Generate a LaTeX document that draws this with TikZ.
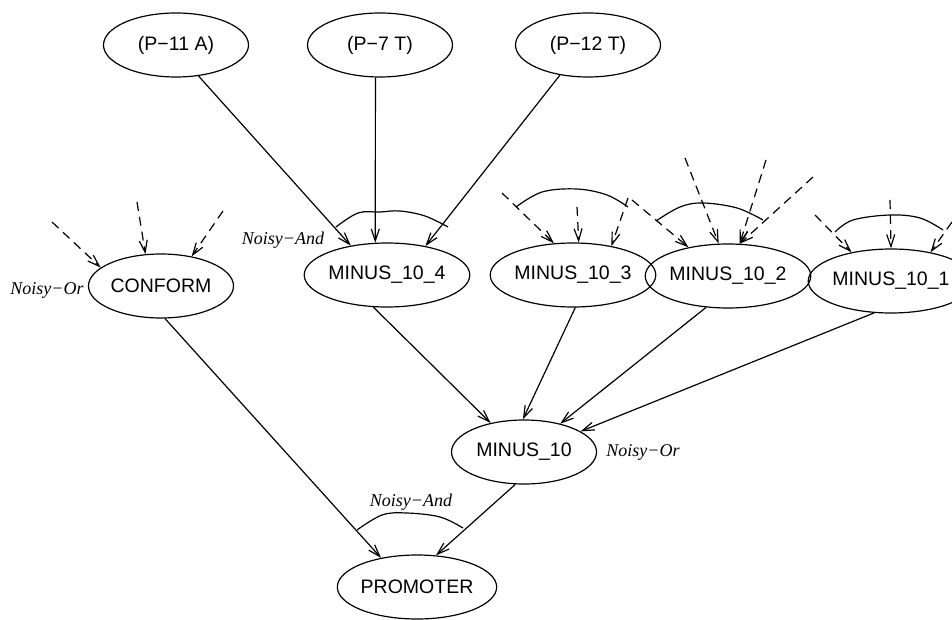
\documentclass[tikz,border=0pt]{standalone}
\usepackage{fontspec}
\setmainfont{Liberation Sans}
\newfontfamily\gateserif{Liberation Serif}
\usetikzlibrary{shapes.geometric,arrows.meta}

\begin{document}
\begin{tikzpicture}[x=1pt,y=-1pt,
  var/.style={ellipse,draw,line width=1.2pt,minimum width=145pt,minimum height=64pt,
    inner sep=0pt,font=\fontsize{19.5}{22}\selectfont},
  link/.style={line width=1.2pt,-{Straight Barb[length=12pt,width=8pt]}},
  hidden/.style={link,dash pattern=on 9pt off 6pt},
  gate/.style={line width=1.2pt},
  gatename/.style={font=\gateserif\itshape\fontsize{18}{20}\selectfont}
]
\useasboundingbox (0,0) rectangle (952,620);
\clip (0,0) rectangle (952,620);

% variables
\node[var] (p11a) at (176,45) {(P−11 A)};
\node[var] (p7t)  at (380,45) {(P−7 T)};
\node[var] (p12t) at (588,45) {(P−12 T)};
\node[var] (conform) at (161,286) {CONFORM};
\node[var] (m104) at (387,275) {MINUS\_10\_4};
\node[var] (m103) at (573,275) {MINUS\_10\_3};
\node[var] (m102) at (728,276) {MINUS\_10\_2};
\node[var] (m101) at (891,281) {MINUS\_10\_1};
\node[var] (m10)  at (524,452) {MINUS\_10};
\node[var] (prom) at (417,587) {PROMOTER};

% combination labels
\node[gatename] (g104)  at (283,240) {Noisy−And};
\node[gatename] (gconf) at (47,290)  {Noisy−Or};
\node[gatename] (g10)   at (643,452) {Noisy−Or};
\node[gatename] (gprom) at (411,502) {Noisy−And};

% loose ends of the dashed (unexpanded) parents
\coordinate (c1) at (52,222);
\coordinate (c2) at (137,202);
\coordinate (c3) at (223,211);
\coordinate (d1) at (502,193);
\coordinate (d2) at (577,207);
\coordinate (d3) at (628,198);
\coordinate (e1) at (632,200);
\coordinate (e2) at (685,158);
\coordinate (e3) at (766,160);
\coordinate (e4) at (813,177);
\coordinate (f1) at (815,215);
\coordinate (f2) at (890,200);
\coordinate (f3) at (952,222);

% solid links
\draw[link] (p11a.-54) -- (m104.141);
\draw[link] (p7t.-98)  -- (m104.110);
\draw[link] (p12t.-133) -- (m104.37);
\draw[link] (m104.-113) -- (m10.139);
\draw[link] (m103.-86)  -- (m10.92);
\draw[link] (m102.-125) -- (m10.38);
\draw[link] (m101.-118) -- (m10.20);
\draw[link] (conform.-83) -- (prom.141.5);
\draw[link] (m10.-105) -- (prom.59);

% dashed links
\draw[hidden] (c1) -- (conform.163);
\draw[hidden] (c2) -- (conform.116);
\draw[hidden] (c3) -- (conform.44);
\draw[hidden] (d1) -- (m103.121);
\draw[hidden] (d2) -- (m103.80);
\draw[hidden] (d3) -- (m103.37);
\draw[hidden] (e1) -- (m102.144);
\draw[hidden] (e2) -- (m102.106);
\draw[hidden] (e3) -- (m102.70);
\draw[hidden] (e4) -- (m102.70);
\draw[hidden] (f1) -- (m101.144);
\draw[hidden] (f2) -- (m101.90);
\draw[hidden] (f3) -- (m101.36);

% Noisy-And arcs spanning the incoming links
\draw[gate] plot[smooth,tension=0.6] coordinates {(336,227) (358,213) (380,212) (400,211) (425,216) (448,227)};
\draw[gate] plot[smooth,tension=0.6] coordinates {(516,207) (542,192) (577,189) (607,195) (628,207)};
\draw[gate] plot[smooth,tension=0.6] coordinates {(656,221) (680,207) (703,203) (737,208) (763,220)};
\draw[gate] plot[smooth,tension=0.6] coordinates {(835,232) (853,220) (890,215) (920,218) (943,230)};
\draw[gate] plot[smooth,tension=0.6] coordinates {(357,530) (382,515) (407,513) (440,517) (463,528)};
\end{tikzpicture}
\end{document}
